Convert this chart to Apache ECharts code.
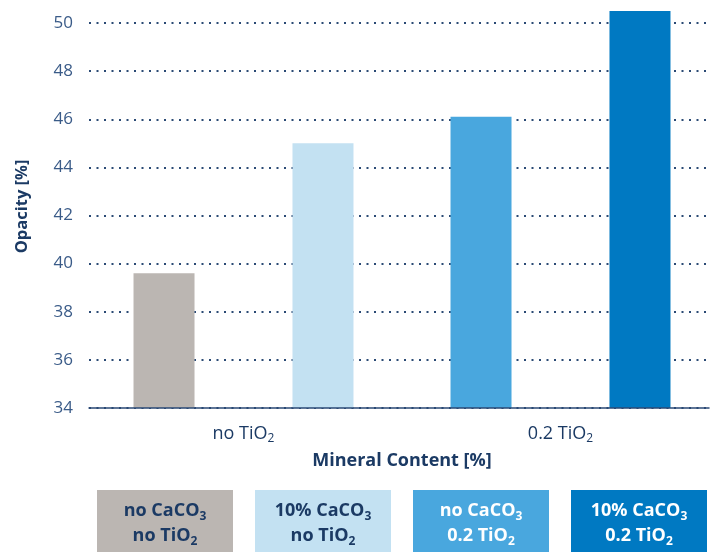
<!DOCTYPE html>
<html><head><meta charset="utf-8">
<script src="https://cdn.jsdelivr.net/npm/echarts@6/dist/echarts.min.js"></script>
<style>html,body{margin:0;padding:0;background:#fff}#c{width:719px;height:552px}</style>
</head><body><div id="c"></div>
<script>
// ---- data ----
const categories = ['no TiO2', '0.2 TiO2'];
const noCaCO3Values = [39.6, 46.1];      // first bar in each group
const tenCaCO3Values = [45.0, 50.5];     // second bar in each group
const yMin = 34, yMax = 50, yInterval = 2;
const yTop = 50.5;                        // top of the drawing area for bars
const barColors = [['#bbb6b2', '#49a7de'], ['#c3e1f2', '#0079c2']];
const legendLabels = [
  ['no CaCO3', 'no TiO2'],
  ['10% CaCO3', 'no TiO2'],
  ['no CaCO3', '0.2 TiO2'],
  ['10% CaCO3', '0.2 TiO2']
];
const legendColors = ['#bbb6b2', '#c3e1f2', '#49a7de', '#0079c2'];
const legendTextColors = ['#1b3a64', '#1b3a64', '#ffffff', '#ffffff'];

// ---- helpers ----
const FONT = '"Open Sans", "Noto Sans", sans-serif';
const NAVY = '#1b3a64';
function subify(s) { return s.replace(/(CaCO|TiO)(\d)/g, '$1{sub|$2}'); }
function richLine(s) {
  // "no CaCO3" -> "{m|no CaCO}{s|3}"
  const m = s.match(/^(.*?)(\d)$/);
  return '{m|' + m[1] + '}{s|' + m[2] + '}';
}

const chart = echarts.init(document.getElementById('c'));

const legendGraphics = legendLabels.map((lines, i) => ({
  type: 'group',
  left: 97 + i * 158,
  top: 490,
  z: 10,
  children: [
    { type: 'rect', shape: { x: 0, y: 0, width: 136, height: 62 }, style: { fill: legendColors[i] } },
    { type: 'text', x: 68, y: 33, z: 11,
      style: {
        text: lines.map(richLine).join('\n'),
        align: 'center', verticalAlign: 'middle',
        fill: legendTextColors[i], fontFamily: FONT, fontWeight: 'bold', fontSize: 18,
        rich: {
          m: { fontSize: 18, fontWeight: 'bold', lineHeight: 25, fill: legendTextColors[i], fontFamily: FONT },
          s: { fontSize: 12, fontWeight: 'bold', lineHeight: 15, verticalAlign: 'bottom', fill: legendTextColors[i], fontFamily: FONT }
        }
      } }
  ]
}));

chart.setOption({
  animation: false,
  textStyle: { fontFamily: FONT },
  grid: [
    { left: 89, right: 10, top: 23, bottom: 144 },
    { left: 85, right: -1, top: 11, bottom: 144 }
  ],
  xAxis: [
    { type: 'category', gridIndex: 0, data: categories,
      axisLine: { show: true, lineStyle: { color: '#2b4a75', width: 1.5 } },
      axisTick: { show: false }, axisLabel: { show: false }, z: 5 },
    { type: 'category', gridIndex: 1, data: categories,
      axisLine: { show: false }, axisTick: { show: false },
      axisLabel: {
        margin: 15, fontSize: 18, color: NAVY, fontFamily: FONT, lineHeight: 22,
        formatter: v => subify(v),
        rich: { sub: { fontSize: 12, lineHeight: 13, verticalAlign: 'bottom', color: NAVY, fontFamily: FONT } }
      },
      name: 'Mineral Content [%]', nameLocation: 'middle', nameGap: 44,
      nameTextStyle: { fontSize: 18, fontWeight: 'bold', color: NAVY, fontFamily: FONT } }
  ],
  yAxis: [
    { type: 'value', gridIndex: 0, min: yMin, max: yMax, interval: yInterval,
      axisLine: { show: false }, axisTick: { show: false },
      axisLabel: { margin: 16, fontSize: 17, color: '#3a5b88', fontFamily: FONT },
      splitLine: { show: true, lineStyle: { color: '#2b4a75', width: 2, type: [2, 5.5], cap: 'butt' } },
      name: 'Opacity [%]', nameLocation: 'middle', nameGap: 58, nameRotate: 90,
      nameTextStyle: { fontSize: 16.5, fontWeight: 'bold', color: NAVY, fontFamily: FONT, padding: [0, 0, 0, 18] } },
    { type: 'value', gridIndex: 1, min: yMin, max: yTop, show: false,
      splitLine: { show: false } }
  ],
  series: [
    { type: 'bar', xAxisIndex: 1, yAxisIndex: 1, barWidth: 61, barGap: '160.6%',
      data: noCaCO3Values.map((v, i) => ({ value: v, itemStyle: { color: barColors[0][i] } })) },
    { type: 'bar', xAxisIndex: 1, yAxisIndex: 1, barWidth: 61, barGap: '160.6%',
      data: tenCaCO3Values.map((v, i) => ({ value: v, itemStyle: { color: barColors[1][i] } })) }
  ],
  graphic: legendGraphics
});
</script></body></html>
